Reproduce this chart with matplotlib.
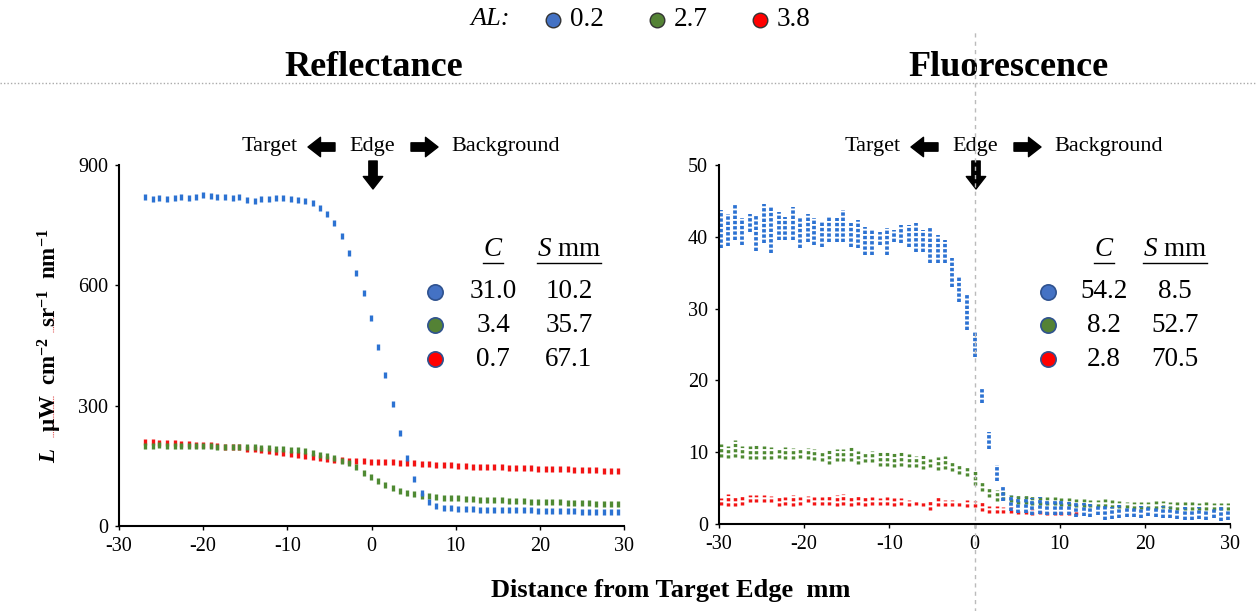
import matplotlib
matplotlib.use("Agg")
import matplotlib.pyplot as plt
import numpy as np

plt.rcParams['font.family'] = ['Liberation Serif', 'DejaVu Serif']
plt.rcParams['mathtext.fontset'] = 'custom'
plt.rcParams['mathtext.rm'] = 'Liberation Serif'
plt.rcParams['mathtext.it'] = 'Liberation Serif:italic'
plt.rcParams['mathtext.bf'] = 'Liberation Serif:bold'
plt.rcParams['mathtext.bfit'] = 'Liberation Serif:bold:italic'
plt.rcParams['axes.unicode_minus'] = False

# ---- data -------------------------------------------------------------
AL_LEVELS = ["0.2", "2.7", "3.8"]
COLORS = ["#2C72D2", "#4F8A33", "#F21414"]      # data dots
LEG_COLORS = ["#4472C4", "#548235", "#FF0000"]  # legend circles

# reflectance (one reading per position)
refl_x = [-26.9, -26.0, -25.2, -24.3, -23.4, -22.6, -21.7, -20.8, -20.0, -19.1,
          -18.3, -17.4, -16.5, -15.7, -14.8, -13.9, -13.1, -12.2, -11.3, -10.5,
          -9.6, -8.7, -7.9, -7.0, -6.1, -5.3, -4.4, -3.5, -2.7, -1.8,
          -0.9, -0.1, 0.8, 1.6, 2.5, 3.4, 4.2, 5.1, 6.0, 6.8,
          7.7, 8.6, 9.4, 10.3, 11.2, 12.0, 12.9, 13.7, 14.6, 15.5,
          16.3, 17.2, 18.1, 18.9, 19.8, 20.7, 21.5, 22.4, 23.3, 24.1,
          25.0, 25.9, 26.7, 27.6, 28.5, 29.3]
refl_blue = [820, 815, 818, 816, 817, 819, 818, 821, 825, 822,
             820, 819, 818, 821, 812, 810, 815, 816, 818, 817,
             815, 812, 810, 805, 793, 778, 755, 723, 681, 631,
             581, 519, 446, 377, 304, 232, 170, 117, 82, 60,
             50, 46, 44, 43, 42, 42, 41, 41, 40, 40,
             40, 39, 39, 39, 38, 38, 38, 37, 37, 37,
             36, 36, 36, 35, 35, 35]
refl_green = [200, 200, 201, 200, 200, 199, 200, 199, 199, 199,
              198, 198, 197, 197, 196, 196, 195, 194, 193, 192,
              190, 189, 186, 182, 178, 174, 169, 163, 156, 146,
              133, 122, 112, 103, 95, 88, 83, 79, 76, 74,
              72, 71, 70, 69, 68, 67, 66, 65, 64, 64,
              63, 62, 62, 61, 60, 60, 59, 59, 58, 58,
              57, 57, 56, 56, 55, 55]
refl_red = [210, 209, 208, 207, 206, 205, 204, 203, 202, 201,
            200, 198, 197, 196, 193, 191, 189, 187, 185, 183,
            180, 177, 175, 172, 170, 167, 165, 164, 163, 162,
            161, 160, 160, 159, 159, 158, 157, 156, 155, 154,
            153, 152, 151, 150, 149, 148, 148, 147, 146, 146,
            145, 145, 144, 144, 143, 142, 142, 141, 141, 140,
            140, 139, 139, 138, 138, 138]

# fluorescence (spread of repeated readings per position: low / high)
fluo_x = [-29.8, -29.0, -28.1, -27.3, -26.4, -25.6, -24.7, -23.9, -23.0, -22.2,
          -21.3, -20.5, -19.6, -18.8, -17.9, -17.1, -16.2, -15.4, -14.5, -13.7,
          -12.8, -12.0, -11.1, -10.3, -9.4, -8.6, -7.7, -6.9, -6.0, -5.2,
          -4.3, -3.5, -2.6, -1.8, -0.9, 0.0, 0.9, 1.7, 2.6, 3.4,
          4.3, 5.1, 6.0, 6.8, 7.7, 8.5, 9.4, 10.2, 11.1, 11.9,
          12.8, 13.6, 14.5, 15.3, 16.2, 17.0, 17.9, 18.7, 19.6, 20.4,
          21.3, 22.1, 23.0, 23.8, 24.7, 25.5, 26.4, 27.2, 28.1, 28.9, 29.8]
fluo_blue_hi = [43.7, 43.2, 44.6, 42.6, 43.2, 43.0, 44.6, 44.2, 43.5, 42.8,
                44.2, 42.6, 43.2, 42.6, 42.1, 42.8, 42.6, 43.7, 41.9, 42.3,
                41.4, 40.9, 40.7, 41.2, 40.9, 41.6, 41.6, 41.9, 40.9, 41.4,
                40.2, 39.5, 37.0, 34.6, 32.1, 26.7, 18.8, 12.8, 8.2, 5.3,
                4.0, 3.8, 3.8, 3.6, 3.7, 3.4, 3.3, 3.2, 3.0, 3.0,
                2.9, 2.8, 2.7, 2.5, 2.4, 2.6, 2.4, 2.3, 2.5, 2.4,
                2.2, 2.5, 2.3, 2.0, 2.3, 2.0, 2.4, 2.0, 2.1, 2.3, 2.0]
fluo_blue_lo = [38.4, 38.7, 39.5, 38.8, 40.7, 38.0, 39.1, 37.7, 39.5, 39.5,
                39.5, 38.4, 39.3, 38.8, 38.6, 39.3, 39.3, 39.3, 38.6, 38.4,
                37.4, 37.4, 38.8, 37.4, 39.3, 39.1, 38.6, 37.9, 37.9, 36.3,
                36.3, 36.3, 33.0, 30.9, 27.0, 23.2, 16.8, 10.5, 6.0, 3.2,
                1.8, 1.5, 1.5, 1.3, 1.4, 1.2, 1.3, 1.2, 1.2, 1.0,
                1.1, 1.0, 1.2, 0.6, 0.7, 0.8, 1.0, 1.0, 0.9, 1.1,
                1.0, 0.9, 0.8, 0.7, 0.5, 0.5, 0.7, 0.6, 0.8, 0.4, 0.5]
fluo_green_hi = [11.1, 10.9, 11.7, 10.9, 10.8, 11.1, 10.9, 10.7, 10.6, 10.7,
                 10.6, 10.6, 10.6, 10.4, 10.2, 10.3, 10.4, 10.4, 10.7, 10.1,
                 10.0, 10.2, 10.1, 10.0, 10.0, 10.0, 9.8, 9.5, 9.6, 9.1,
                 9.4, 9.5, 8.6, 8.3, 7.9, 7.4, 6.0, 5.1, 4.8, 4.6,
                 4.1, 4.0, 4.0, 4.0, 3.9, 3.8, 3.7, 3.6, 3.6, 3.5,
                 3.5, 3.4, 3.4, 3.5, 3.3, 3.2, 3.1, 3.0, 3.0, 3.1,
                 3.2, 3.2, 3.1, 3.0, 3.0, 3.0, 2.9, 3.0, 2.9, 2.9, 2.9]
fluo_green_lo = [9.3, 9.2, 9.3, 9.2, 9.1, 9.0, 9.0, 9.1, 9.2, 9.1,
                 9.1, 9.2, 9.1, 8.9, 8.8, 8.4, 8.8, 8.8, 8.8, 8.3,
                 8.6, 8.6, 8.1, 8.1, 8.0, 8.1, 8.0, 7.9, 7.6, 8.0,
                 7.5, 7.6, 7.4, 6.9, 6.7, 5.5, 4.6, 3.7, 3.2, 3.4,
                 3.0, 2.8, 2.8, 2.7, 2.7, 2.6, 2.6, 2.5, 2.5, 2.4,
                 2.4, 2.4, 2.3, 2.3, 2.2, 2.2, 2.2, 2.1, 2.1, 2.1,
                 2.1, 2.2, 2.1, 2.0, 2.0, 2.0, 2.0, 2.0, 1.9, 2.0, 1.9]
fluo_red_hi = [3.6, 4.2, 3.9, 3.9, 4.0, 4.0, 4.0, 3.9, 3.8, 3.8,
               4.1, 3.8, 3.9, 3.7, 3.8, 3.9, 4.1, 4.2, 3.8, 3.9,
               3.7, 3.7, 3.6, 3.7, 3.6, 3.6, 3.4, 3.4, 3.2, 3.4,
               3.7, 3.4, 3.3, 3.2, 3.4, 3.2, 3.0, 2.5, 2.5, 2.3,
               2.3, 2.1, 2.0, 2.1, 2.0, 2.0, 1.9, 1.9, 1.9, 1.8]
fluo_red_lo = [2.7, 2.5, 2.5, 2.7, 3.0, 3.0, 3.0, 3.0, 2.5, 2.7,
               2.5, 2.7, 3.0, 2.7, 2.7, 2.7, 2.5, 2.7, 2.5, 2.7,
               2.5, 2.7, 2.7, 2.6, 2.5, 2.7, 2.5, 2.7, 2.5, 2.0,
               2.5, 2.5, 2.5, 2.5, 2.3, 2.3, 1.8, 1.6, 1.6, 1.6,
               1.6, 1.4, 1.4, 1.3, 1.4, 1.3, 1.3, 1.2, 1.3, 1.2]

refl_C = ["31.0", "3.4", "0.7"]
refl_S = ["10.2", "35.7", "67.1"]
fluo_C = ["54.2", "8.2", "2.8"]
fluo_S = ["8.5", "52.7", "70.5"]

XTICKS = [-30, -20, -10, 0, 10, 20, 30]
REFL_YTICKS = [0, 300, 600, 900]
FLUO_YTICKS = [0, 10, 20, 30, 40, 50]

W, H = 1256, 611


def style_axes(ax, yticks):
    for side in ["top", "right"]:
        ax.spines[side].set_visible(False)
    for side in ["left", "bottom"]:
        ax.spines[side].set_linewidth(1.5)
        ax.spines[side].set_color("black")
    ax.set_xlim(-30, 30)
    ax.set_xticks(XTICKS)
    ax.set_yticks(yticks)
    ax.set_ylim(yticks[0], yticks[-1])
    ax.tick_params(labelsize=14.5, length=3, width=1, pad=5)
    ax.patch.set_alpha(0)


fig = plt.figure(figsize=(W / 100, H / 100), dpi=100)

# axes placed from pixel bounds of the original layout
ax1 = fig.add_axes([119 / W, 1 - 526 / H, (624 - 119) / W, (526 - 165) / H])
ax2 = fig.add_axes([719 / W, 1 - 524 / H, (1230 - 719) / W, (524 - 165) / H])

# reflectance: short vertical dashes
for yv, c in [(refl_red, COLORS[2]), (refl_green, COLORS[1]), (refl_blue, COLORS[0])]:
    ax1.plot(refl_x, yv, ls="none", marker="|", ms=4.8, mew=2.4, color=c, clip_on=False)
style_axes(ax1, REFL_YTICKS)
ax1.set_ylabel(r"$\mathbfit{L}$   $\mathbf{\mu W\ \ cm^{-2}\ \ sr^{-1}\ \ nm^{-1}}$",
               fontsize=16.5, labelpad=10)

# fluorescence: stacks of dots per position
ax2.vlines(fluo_x[:len(fluo_red_hi)], fluo_red_lo, fluo_red_hi, colors=COLORS[2],
           linewidth=2.5, linestyles=(0, (0.9, 0.6)))
ax2.vlines(fluo_x, fluo_green_lo, fluo_green_hi, colors=COLORS[1],
           linewidth=2.5, linestyles=(0, (0.9, 0.6)))
ax2.vlines(fluo_x, fluo_blue_lo, fluo_blue_hi, colors=COLORS[0],
           linewidth=2.7, linestyles=(0, (0.9, 0.5)))
style_axes(ax2, FLUO_YTICKS)
# dashed guide through the edge position
ax2.axvline(0, ymin=-0.245, ymax=1.376, clip_on=False, color="#BBBBBB",
            lw=1, ls=(0, (3, 3)), zorder=5)

# overlay in pixel coordinates for the annotations
ov = fig.add_axes([0, 0, 1, 1], zorder=-1)
ov.set_xlim(0, W)
ov.set_ylim(H, 0)
ov.axis("off")
ov.patch.set_alpha(0)

ov.plot([0, W], [83, 83], color="#AAAAAA", lw=1, ls=(0, (1, 1.5)))

ov.text(374, 67, "Reflectance", fontsize=26, fontweight="bold", ha="center", va="center")
ov.text(1008, 67, "Fluorescence", fontsize=26, fontweight="bold", ha="center", va="center")
ov.text(671, 591, "Distance from Target Edge  mm", fontsize=19, fontweight="bold",
        ha="center", va="center")

# top legend
ov.text(510, 19, "AL:", fontsize=19, style="italic", ha="right", va="center")
for xm, c, lab in zip([553, 657, 760], LEG_COLORS, AL_LEVELS):
    ov.plot([xm], [20], marker="o", ms=10.5, mfc=c, mec="#333333", mew=1, ls="none")
    ov.text(xm + 17, 20, lab, fontsize=19.5, ha="left", va="center")

arrow_kw = dict(arrowstyle="simple,head_length=0.45,head_width=0.7,tail_width=0.3",
                color="black", shrinkA=0, shrinkB=0, mutation_scale=20)


def edge_notes(xe):
    ov.text(xe - 102, 147, "Target", fontsize=16, ha="center", va="center")
    ov.text(xe, 147, "Edge", fontsize=16, ha="center", va="center")
    ov.text(xe + 134, 147, "Background", fontsize=16, ha="center", va="center")
    ov.annotate("", xy=(xe - 64, 147), xytext=(xe - 37, 147), arrowprops=arrow_kw)
    ov.annotate("", xy=(xe + 66, 147), xytext=(xe + 39, 147), arrowprops=arrow_kw)
    ov.annotate("", xy=(xe + 1, 189), xytext=(xe + 1, 161), arrowprops=arrow_kw)


edge_notes(372)
edge_notes(975)


def stats_table(xm, xc, xs, cvals, svals):
    hc = ov.text(xc, 250, r"$\mathit{C}$", fontsize=19.5, ha="center", va="center")
    hs = ov.text(xs, 250, r"$\mathit{S}$ mm", fontsize=19.5, ha="center", va="center")
    for yy, c, cv, sv in zip([292, 325, 359], LEG_COLORS, cvals, svals):
        ov.plot([xm], [yy], marker="o", ms=11, mfc=c, mec="#2F528F", mew=1.2, ls="none")
        ov.text(xc, yy, cv, fontsize=19.5, ha="center", va="center")
        ov.text(xs, yy, sv, fontsize=19.5, ha="center", va="center")
    return [hc, hs]


heads = stats_table(435, 493, 569, refl_C, refl_S)
heads += stats_table(1048, 1104, 1175, fluo_C, fluo_S)

# underline the column headings
fig.canvas.draw()
for t in heads:
    bb = t.get_window_extent()
    ov.plot([bb.x0, bb.x1], [H - bb.y0, H - bb.y0], color="black", lw=1)

# spell-check squiggles seen in the source image
ov.plot([53, 53], [396, 437], color="#E05050", lw=0.8, ls=(0, (1, 1)))
ov.plot([53, 53], [311, 332], color="#E05050", lw=0.8, ls=(0, (1, 1)))

fig.savefig("out.png", dpi=100, facecolor="white")
